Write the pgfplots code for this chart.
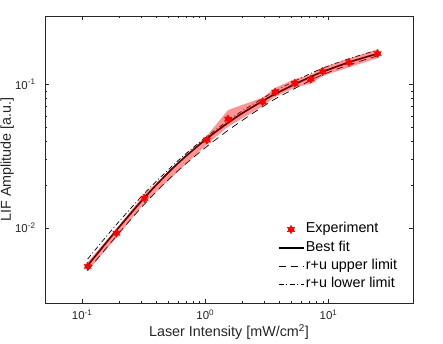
\documentclass[border=0pt]{standalone}
\usepackage{fontspec}
\setmainfont{Liberation Sans}
\usepackage{pgfplots}
\pgfplotsset{compat=1.18}

% filled six-pointed star, like MATLAB's hexagram
\pgfdeclareplotmark{hexagram}{%
  \pgfpathmoveto{\pgfqpointpolar{90}{\pgfplotmarksize}}%
  \pgfpathlineto{\pgfqpointpolar{210}{\pgfplotmarksize}}%
  \pgfpathlineto{\pgfqpointpolar{330}{\pgfplotmarksize}}%
  \pgfpathclose
  \pgfpathmoveto{\pgfqpointpolar{270}{\pgfplotmarksize}}%
  \pgfpathlineto{\pgfqpointpolar{30}{\pgfplotmarksize}}%
  \pgfpathlineto{\pgfqpointpolar{150}{\pgfplotmarksize}}%
  \pgfpathclose
  \pgfusepathqfillstroke}

\definecolor{axgray}{rgb}{0.15,0.15,0.15}

\begin{document}
\begin{tikzpicture}
\begin{axis}[
    xmode=log, ymode=log,
    scale only axis,
    width=368bp, height=287bp,
    xmin=0.05, xmax=48.5,
    ymin=0.003, ymax=0.3,
    xtick={0.1,1,10},
    xticklabels={{10\textsuperscript{-1}},{10\textsuperscript{0}},{10\textsuperscript{1}}},
    ytick={0.01,0.1},
    yticklabels={{10\textsuperscript{-2}},{10\textsuperscript{-1}}},
    axis line style={axgray, line width=0.6bp},
    every tick/.style={axgray, line width=0.5bp},
    major tick length=4bp, minor tick length=2.2bp,
    tick label style={font=\fontsize{11.5}{13}\selectfont, text=axgray},
    xticklabel style={yshift=-3bp},
    yticklabel style={xshift=-6bp},
    xlabel={Laser Intensity [mW/cm\textsuperscript{2}]},
    ylabel={LIF Amplitude [a.u.]},
    every axis x label/.style={at={(axis description cs:0.5,0)}, yshift=-34bp, anchor=base,
        font=\fontsize{14.4}{17}\selectfont, text=axgray},
    every axis y label/.style={at={(axis description cs:0,0.5)}, xshift=-34bp, rotate=90, anchor=base,
        font=\fontsize{14.4}{17}\selectfont, text=axgray},
    legend image code/.code={\draw[mark repeat=2,mark phase=2,#1] plot coordinates {(0bp,0bp) (12.5bp,0bp) (25bp,0bp)};},
    legend style={at={(axis description cs:0.6318,0.2885)}, anchor=north west,
        draw=none, fill=none, inner sep=0pt, row sep=0pt, column sep=0pt,
        font=\fontsize{14.4}{17}\selectfont,
        nodes={inner ysep=2.6bp, inner xsep=1.5bp, text height=10bp, text depth=3bp}},
    legend cell align=left,
]
\addlegendimage{only marks, mark=hexagram, mark size=4.2bp, red, fill=red, line width=0.4bp}

% best fit
\addplot[black, line width=1.7bp, smooth] coordinates {
 (0.111,0.00547) (0.19,0.00964) (0.32,0.01622) (0.5,0.0243) (0.7,0.0318)
 (1.03,0.0420) (1.5,0.0534) (2.0,0.0631) (2.92,0.0767) (3.69,0.0859)
 (5.33,0.1005) (7.18,0.1130) (8.96,0.1225) (14.7,0.1429) (25.1,0.1641)};
% r+u upper limit
\addplot[black, line width=0.7bp, dash pattern=on 7bp off 5bp, smooth] coordinates {
 (0.111,0.00505) (0.19,0.00879) (0.32,0.01463) (0.5,0.02165) (0.7,0.02817)
 (1.03,0.0370) (1.5,0.0473) (2.0,0.0562) (2.92,0.0700) (3.69,0.0793)
 (5.33,0.0938) (7.18,0.1068) (8.96,0.1170) (14.7,0.1372) (25.1,0.1585)};
% r+u lower limit
\addplot[black, line width=0.7bp, dash pattern=on 5bp off 2.5bp on 1bp off 2.5bp, smooth] coordinates {
 (0.111,0.00607) (0.19,0.01057) (0.32,0.01739) (0.5,0.02544) (0.7,0.03307)
 (1.03,0.04347) (1.5,0.05527) (2.0,0.0655) (2.92,0.0799) (3.69,0.0899)
 (5.33,0.1057) (7.18,0.1193) (8.96,0.1297) (14.7,0.1513) (25.1,0.1738)};

% uncertainty band (drawn over the lines, semi-transparent)
\addplot[forget plot, draw=none, fill=red, fill opacity=0.42] coordinates {
 (0.111,0.00578) (0.19,0.00984) (0.321,0.01723) (1.03,0.0439) (1.53,0.0663)
 (2.92,0.0810) (3.69,0.0947) (5.33,0.1091) (7.18,0.1166) (8.96,0.1316)
 (14.7,0.1519) (25.1,0.1755)
 (25.1,0.1525) (14.7,0.1321) (8.96,0.1144) (7.18,0.1014) (5.33,0.0949)
 (3.69,0.0823) (2.92,0.0704) (1.53,0.0508) (1.03,0.0381) (0.321,0.01497)
 (0.19,0.00856) (0.111,0.00502)};

% experiment
\addplot[forget plot, only marks, mark=hexagram, mark size=4.2bp, red, fill=red, line width=0.4bp] coordinates {
 (0.111,0.0054) (0.19,0.0092) (0.321,0.0161) (1.03,0.041) (1.53,0.0574)
 (2.92,0.0757) (3.69,0.0885) (5.33,0.102) (7.18,0.109) (8.96,0.123)
 (14.7,0.142) (25.1,0.164)};

\legend{Experiment, Best fit, r+u upper limit, r+u lower limit}
\end{axis}
\pgfresetboundingbox
\path ([shift={(-45bp,-41bp)}]current axis.south west) rectangle ([shift={(30bp,16bp)}]current axis.north east);
\end{tikzpicture}
\end{document}
